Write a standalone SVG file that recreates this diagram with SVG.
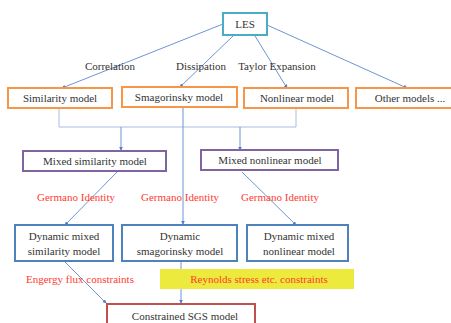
<svg xmlns="http://www.w3.org/2000/svg" width="451" height="323" viewBox="0 0 451 323">
<defs>
<style>
text{font-family:'Liberation Serif','Times New Roman',Times,serif;font-size:11px;fill:#333;text-anchor:middle}
text.r{fill:#ff3b30}
.box{fill:#fff;stroke-width:2}
.les{stroke:#4bacc6}
.org{stroke:#f79646}
.pur{stroke:#8064a2}
.blu{stroke:#4f81bd}
.red{stroke:#c0504d}
.c{stroke:#6f94d4;stroke-width:1;fill:none}
.cl{stroke:#a9bde3;stroke-width:1;fill:none}
</style>
<marker id="a" viewBox="0 0 6 6" refX="5" refY="3" markerWidth="4" markerHeight="4" orient="auto">
<path d="M0,0L6,3L0,6z" fill="#4f7fc8"/>
</marker>
</defs>
<rect width="451" height="323" fill="#fff"/>
<g id="connectors">
<line class="c" x1="223" y1="24" x2="62" y2="88" marker-end="url(#a)"/>
<line class="c" x1="233" y1="36" x2="180" y2="87" marker-end="url(#a)"/>
<line class="c" x1="255" y1="36" x2="287" y2="88" marker-end="url(#a)"/>
<line class="c" x1="267" y1="25" x2="407" y2="88" marker-end="url(#a)"/>
<polyline class="cl" points="59,108 59,127 296,127 296,108"/>
<line class="c" x1="121" y1="127" x2="121" y2="150" marker-end="url(#a)"/>
<line class="c" x1="240" y1="127" x2="240" y2="150" marker-end="url(#a)"/>
<line class="c" x1="183" y1="108" x2="183" y2="224" marker-end="url(#a)"/>
<line class="c" x1="117" y1="172" x2="65" y2="225" marker-end="url(#a)"/>
<line class="c" x1="242" y1="172" x2="296" y2="225" marker-end="url(#a)"/>
<line class="c" x1="65" y1="262" x2="106" y2="303" marker-end="url(#a)"/>
<line class="c" x1="181" y1="262" x2="181" y2="303" marker-end="url(#a)"/>
</g>
<g id="labels">
<text x="110" y="70">Correlation</text>
<text x="201" y="70">Dissipation</text>
<text x="277" y="70">Taylor Expansion</text>
<text class="r" x="76" y="201">Germano Identity</text>
<text class="r" x="180" y="201">Germano Identity</text>
<text class="r" x="280" y="201">Germano Identity</text>
<text class="r" x="80" y="283">Engergy flux constraints</text>
</g>
<g id="reynolds">
<rect x="160" y="269" width="194" height="20" fill="#ecea3c"/>
<text class="r" x="259" y="283">Reynolds stress etc. constraints</text>
</g>
<g id="les"><rect class="box les" x="223" y="13" width="44" height="22"/><text x="245" y="28">LES</text></g>
<g id="similarity"><rect class="box org" x="8" y="88" width="104" height="20"/><text x="60" y="102">Similarity model</text></g>
<g id="smagorinsky"><rect class="box org" x="122" y="87" width="115" height="20"/><text x="179" y="101">Smagorinsky model</text></g>
<g id="nonlinear"><rect class="box org" x="244" y="88" width="104" height="20"/><text x="297" y="102">Nonlinear model</text></g>
<g id="other"><rect class="box org" x="356" y="88" width="100" height="20"/><text x="410" y="102">Other models ...</text></g>
<g id="mixed-similarity"><rect class="box pur" x="23" y="151" width="143" height="20"/><text x="95" y="165">Mixed similarity model</text></g>
<g id="mixed-nonlinear"><rect class="box pur" x="201" y="150" width="137" height="20"/><text x="270" y="164">Mixed nonlinear model</text></g>
<g id="dyn-mixed-similarity"><rect class="box blu" x="15" y="225" width="98" height="36"/><text x="64" y="240">Dynamic mixed</text><text x="64" y="255">similarity model</text></g>
<g id="dyn-smagorinsky"><rect class="box blu" x="122" y="225" width="115" height="36"/><text x="180" y="240">Dynamic</text><text x="180" y="255">smagorinsky model</text></g>
<g id="dyn-mixed-nonlinear"><rect class="box blu" x="247" y="225" width="101" height="36"/><text x="299" y="240">Dynamic mixed</text><text x="299" y="255">nonlinear model</text></g>
<g id="constrained"><rect class="box red" x="107" y="304" width="148" height="30"/><text x="185" y="320">Constrained SGS model</text></g>
</svg>
